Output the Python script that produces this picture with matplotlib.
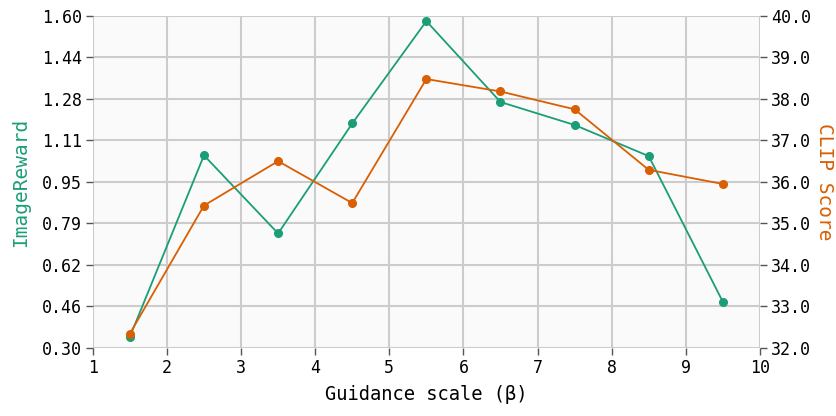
import matplotlib
matplotlib.use("Agg")
import matplotlib.pyplot as plt
import numpy as np

plt.rcParams['font.family'] = ['DejaVu Sans Mono']

guidance = [1.5, 2.5, 3.5, 4.5, 5.5, 6.5, 7.5, 8.5, 9.5]
image_reward = [0.343, 1.054, 0.748, 1.179, 1.580, 1.263, 1.173, 1.051, 0.480]
clip_score = [32.34, 35.43, 36.50, 35.49, 38.48, 38.18, 37.75, 36.29, 35.95]

x_ticks = [1, 2, 3, 4, 5, 6, 7, 8, 9, 10]
left_ticks = [0.30, 0.4625, 0.625, 0.7875, 0.95, 1.1125, 1.275, 1.4375, 1.60]
left_labels = ["0.30", "0.46", "0.62", "0.79", "0.95", "1.11", "1.28", "1.44", "1.60"]
right_ticks = [32.0, 33.0, 34.0, 35.0, 36.0, 37.0, 38.0, 39.0, 40.0]
right_labels = ["32.0", "33.0", "34.0", "35.0", "36.0", "37.0", "38.0", "39.0", "40.0"]

green = "#1b9e77"
orange = "#d95f02"

fig = plt.figure(figsize=(8.36, 4.16), dpi=100)
ax = fig.add_axes([0.111, 0.164, 0.798, 0.7975])
ax.set_facecolor("#fafafa")
ax2 = ax.twinx()

ax.plot(guidance, image_reward, color=green, lw=1.3, marker="o", ms=5.5, zorder=3)
ax2.plot(guidance, clip_score, color=orange, lw=1.3, marker="o", ms=5.5, zorder=3)

ax.set_xlim(1, 10)
ax.set_ylim(0.30, 1.60)
ax2.set_ylim(32.0, 40.0)
ax.set_xticks(x_ticks)
ax.set_yticks(left_ticks)
ax.set_yticklabels(left_labels)
ax2.set_yticks(right_ticks)
ax2.set_yticklabels(right_labels)

ax.grid(True, color="#cccccc", lw=1.5, zorder=0)
ax.set_axisbelow(True)

for a in (ax, ax2):
    for s in a.spines.values():
        s.set_visible(False)
    a.tick_params(labelsize=12, length=5, width=1, color="#555555", pad=3)

ax.set_xlabel("Guidance scale (β)", fontsize=13.5, labelpad=6)
ax.set_ylabel("ImageReward", fontsize=14, color=green, labelpad=8)
ax2.set_ylabel("CLIP Score", fontsize=14, color=orange, rotation=270,
               va="center", ha="center")
ax2.yaxis.set_label_coords(1.097, 0.5)

fig.savefig("out.png", dpi=100)
